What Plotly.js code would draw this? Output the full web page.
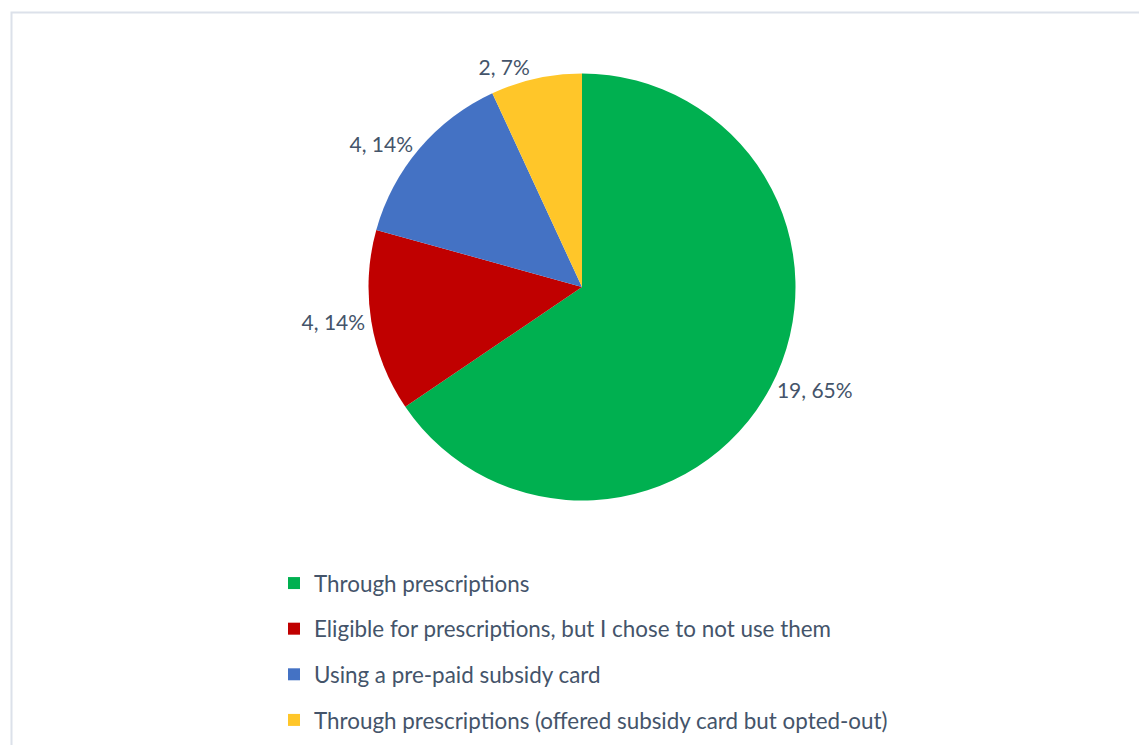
<!DOCTYPE html>
<html>
<head>
<meta charset="utf-8">
<script src="https://cdn.plot.ly/plotly-3.0.1.min.js"></script>
<style>html,body{margin:0;padding:0;background:#fff;}#chart{width:1139px;height:745px;}</style>
</head>
<body>
<div id="chart"></div>
<script>
const categories = [
  'Through prescriptions',
  'Eligible for prescriptions, but I chose to not use them',
  'Using a pre-paid subsidy card',
  'Through prescriptions (offered subsidy card but opted-out)'
];
const counts = [19, 4, 4, 2];
const percentLabels = ['65%', '14%', '14%', '7%'];
const colors = ['#00B050', '#C00000', '#4472C4', '#FFC629'];

const W = 1139, H = 745;
const textColor = '#44546A';
const fontFamily = 'Lato, "Open Sans", sans-serif';

const pie = {
  type: 'pie',
  labels: categories,
  values: counts,
  customdata: percentLabels,
  sort: false,
  direction: 'clockwise',
  rotation: 0,
  marker: {colors: colors, line: {width: 0}},
  texttemplate: '%{value}, %{customdata}',
  textposition: 'outside',
  outsidetextfont: {family: fontFamily, size: 21, color: textColor},
  showlegend: false,
  hoverinfo: 'none',
  domain: {x: [368.5 / W, 795.5 / W], y: [1 - 500.5 / H, 1 - 73.5 / H]}
};

const legendTraces = categories.map((c, i) => ({
  type: 'scatter',
  mode: 'markers',
  x: [null], y: [null],
  name: c,
  legendgroup: 'g' + i,
  marker: {symbol: 'square', size: 12, color: colors[i]},
  hoverinfo: 'none',
  showlegend: true
}));

const layout = {
  width: W, height: H,
  margin: {l: 0, r: 0, t: 0, b: 0},
  paper_bgcolor: '#ffffff',
  plot_bgcolor: 'rgba(0,0,0,0)',
  xaxis: {visible: false},
  yaxis: {visible: false},
  showlegend: true,
  legend: {
    x: 274 / W, xanchor: 'left',
    y: 1 - 562 / H, yanchor: 'top',
    font: {family: fontFamily, size: 22.4, color: textColor},
    tracegroupgap: 13.5,
    bgcolor: 'rgba(0,0,0,0)'
  },
  hovermode: false,
  shapes: [{
    type: 'rect', xref: 'paper', yref: 'paper',
    x0: 11.5 / W, x1: 1.05, y0: -0.05, y1: 1 - 12.5 / H,
    line: {color: '#DCE1EA', width: 2},
    fillcolor: 'rgba(0,0,0,0)', layer: 'below'
  }]
};

Plotly.newPlot('chart', [pie].concat(legendTraces), layout, {displayModeBar: false, staticPlot: true});
</script>
</body>
</html>
